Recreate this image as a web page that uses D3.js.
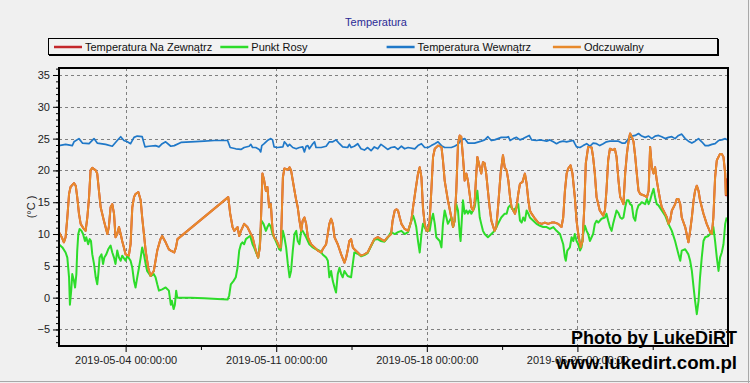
<!DOCTYPE html>
<html><head><meta charset="utf-8">
<script src="https://cdn.jsdelivr.net/npm/d3@7"></script>
<style>
html,body{margin:0;padding:0;background:#f0f0f0;}
svg{display:block;}
.lbl{font-family:"Liberation Sans",Arial,sans-serif;}
.wm{font-family:"Liberation Sans",Arial,sans-serif;font-weight:bold;}
</style></head><body>
<svg id="chart" width="750" height="383"></svg>
<script>
// ---------- DATA ----------
const chartTitle = "Temperatura";
const yAxisLabel = "(°C )";
const seriesNames = ["Temperatura Na Zewnątrz", "Punkt Rosy", "Temperatura Wewnątrz", "Odczuwalny"];
const xTickLabels = ["2019-05-04 00:00:00", "2019-05-11 00:00:00", "2019-05-18 00:00:00", "2019-05-25 00:00:00"];
const yTickValues = [-5, 0, 5, 10, 15, 20, 25, 30, 35];
// each point: [days since 2019-05-01 00:00, °C]
const tempOut = [[-0.10,10.3],[0.03,9.5],[0.13,8.7],[0.21,9.5],[0.29,12.6],[0.37,16.3],[0.44,17.4],[0.60,18.0],[0.68,17.6],[0.75,15.8],[0.83,13.2],[0.91,11.6],[1.06,10.8],[1.14,10.5],[1.22,12.6],[1.30,15.8],[1.37,20.0],[1.45,20.4],[1.61,20.0],[1.68,19.5],[1.76,16.8],[1.84,14.2],[1.99,12.1],[2.15,10.0],[2.22,11.1],[2.30,14.2],[2.38,14.7],[2.46,13.2],[2.53,9.5],[2.61,10.0],[2.69,11.1],[2.77,10.0],[2.84,8.9],[2.92,7.9],[3.00,6.8],[3.15,6.6],[3.23,8.4],[3.31,14.2],[3.39,15.8],[3.46,16.3],[3.59,16.6],[3.70,15.3],[3.77,12.6],[3.85,10.0],[3.93,7.4],[4.05,4.7],[4.16,3.4],[4.31,4.2],[4.47,7.4],[4.62,9.2],[4.70,9.7],[4.86,8.7],[5.01,7.6],[5.10,7.4],[5.26,7.1],[5.34,7.9],[5.41,9.2],[7.77,15.8],[7.86,13.2],[7.97,11.1],[8.05,10.5],[8.20,11.1],[8.28,9.7],[8.36,10.5],[8.51,11.6],[8.66,11.1],[8.82,10.0],[8.90,9.5],[9.05,7.4],[9.16,6.3],[9.24,7.9],[9.28,11.1],[9.36,19.5],[9.44,18.4],[9.52,16.8],[9.59,17.4],[9.67,14.2],[9.75,14.7],[9.83,10.5],[9.90,9.5],[10.03,8.9],[10.14,7.9],[10.21,7.9],[10.25,12.0],[10.31,18.9],[10.38,20.3],[10.54,20.1],[10.62,20.5],[10.69,20.0],[10.77,18.4],[10.85,16.8],[10.93,15.3],[11.00,14.2],[11.08,12.1],[11.16,10.5],[11.23,12.1],[11.31,12.6],[11.39,11.6],[11.47,9.5],[11.62,8.4],[11.78,7.9],[11.93,7.4],[12.09,7.1],[12.16,7.6],[12.32,8.4],[12.47,11.6],[12.55,12.4],[12.63,11.6],[12.71,9.5],[12.86,8.4],[13.02,6.8],[13.17,5.5],[13.25,6.3],[13.32,7.4],[13.40,8.9],[13.48,9.2],[13.56,7.9],[13.63,7.6],[13.79,7.1],[13.94,6.6],[14.10,6.8],[14.25,7.1],[14.41,8.2],[14.56,9.2],[14.72,9.5],[14.87,9.2],[15.03,8.9],[15.18,9.5],[15.34,10.0],[15.41,12.1],[15.51,13.7],[15.59,13.9],[15.66,13.7],[15.74,12.6],[15.82,11.6],[15.97,10.8],[16.13,10.5],[16.28,12.1],[16.36,14.2],[16.47,16.8],[16.59,19.5],[16.67,20.5],[16.75,18.9],[16.82,14.2],[16.90,11.6],[16.98,10.5],[17.06,10.5],[17.13,12.1],[17.21,16.8],[17.29,22.1],[17.37,23.4],[17.52,23.9],[17.68,23.7],[17.75,21.6],[17.83,18.4],[17.98,15.3],[18.14,12.6],[18.22,11.1],[18.29,12.1],[18.37,16.8],[18.45,24.2],[18.53,25.5],[18.60,25.3],[18.68,22.1],[18.76,18.4],[18.84,19.5],[18.91,18.4],[18.99,16.3],[19.07,14.2],[19.15,13.7],[19.22,14.7],[19.30,19.5],[19.35,22.1],[19.46,20.5],[19.53,19.5],[19.61,21.3],[19.69,21.1],[19.76,19.5],[19.84,16.8],[19.92,14.2],[20.00,12.1],[20.15,10.5],[20.23,11.1],[20.31,14.2],[20.43,19.5],[20.54,22.4],[20.62,20.5],[20.71,20.0],[20.79,18.4],[20.87,15.8],[20.94,14.2],[21.02,13.7],[21.10,13.2],[21.17,14.2],[21.25,16.3],[21.33,17.9],[21.45,18.2],[21.56,19.5],[21.64,17.9],[21.72,15.3],[21.79,13.7],[21.87,13.2],[22.03,12.4],[22.18,11.8],[22.34,11.6],[22.49,11.8],[22.64,11.6],[22.80,11.8],[22.95,11.8],[23.11,11.6],[23.26,11.1],[23.34,12.6],[23.42,16.8],[23.50,19.5],[23.57,20.3],[23.68,20.8],[23.77,19.5],[23.88,15.8],[23.96,12.1],[24.04,10.0],[24.15,7.9],[24.24,8.9],[24.32,14.2],[24.39,21.1],[24.50,23.7],[24.66,23.6],[24.73,22.1],[24.81,19.5],[24.89,15.8],[25.04,13.7],[25.20,12.9],[25.28,13.7],[25.35,16.8],[25.43,21.6],[25.51,23.4],[25.66,23.2],[25.74,23.4],[25.82,22.1],[25.91,18.4],[25.99,15.8],[26.07,15.3],[26.14,14.7],[26.22,19.5],[26.30,22.6],[26.38,24.7],[26.45,25.8],[26.53,25.3],[26.61,24.5],[26.69,22.1],[26.76,19.5],[26.84,16.8],[26.92,16.3],[27.07,16.1],[27.23,15.8],[27.31,16.8],[27.38,23.7],[27.46,20.5],[27.54,19.5],[27.61,20.5],[27.69,18.4],[27.77,16.8],[27.85,15.3],[27.92,14.2],[28.00,13.7],[28.16,12.6],[28.23,11.6],[28.31,12.1],[28.39,13.7],[28.47,14.2],[28.54,14.7],[28.62,15.5],[28.70,15.5],[28.78,14.7],[28.85,12.6],[29.01,11.1],[29.16,8.7],[29.24,10.5],[29.32,12.6],[29.40,15.3],[29.47,16.8],[29.55,17.6],[29.63,16.8],[29.70,15.3],[29.86,13.2],[30.01,11.6],[30.17,10.3],[30.25,10.0],[30.32,12.6],[30.40,18.9],[30.48,21.6],[30.63,22.6],[30.71,22.6],[30.79,22.1],[30.87,19.5],[30.90,16.1],[30.95,18.6],[30.99,15.8]];
const dewPoint = [[-0.10,8.4],[0.06,7.9],[0.21,7.1],[0.29,6.3],[0.37,3.2],[0.41,-1.1],[0.47,1.1],[0.52,3.7],[0.60,2.6],[0.65,1.6],[0.71,3.7],[0.75,7.4],[0.80,10.0],[0.86,10.8],[0.95,10.5],[1.02,10.0],[1.11,8.9],[1.17,9.5],[1.26,8.4],[1.33,9.2],[1.39,8.9],[1.45,6.8],[1.53,5.3],[1.61,3.2],[1.68,2.1],[1.73,3.7],[1.79,6.3],[1.88,6.8],[1.95,5.3],[2.01,6.3],[2.10,6.8],[2.19,7.6],[2.30,8.2],[2.38,7.1],[2.46,6.3],[2.53,5.3],[2.61,7.4],[2.69,6.3],[2.77,5.8],[2.84,6.6],[3.00,5.8],[3.08,6.6],[3.23,5.8],[3.31,4.7],[3.39,2.6],[3.46,1.6],[3.54,3.2],[3.62,4.7],[3.70,6.3],[3.77,7.9],[3.85,6.8],[3.93,5.3],[4.00,4.2],[4.16,3.4],[4.31,3.7],[4.39,3.2],[4.47,2.1],[4.55,1.1],[4.70,1.3],[4.86,1.6],[5.01,1.1],[5.10,-1.1],[5.15,-0.5],[5.23,-1.8],[5.29,-1.1],[5.35,1.1],[5.40,0.0],[6.03,0.0],[6.65,-0.1],[7.27,-0.2],[7.74,-0.3],[7.81,0.3],[7.89,2.1],[8.01,2.6],[8.12,3.2],[8.20,4.7],[8.28,7.4],[8.36,8.4],[8.43,8.7],[8.51,8.4],[8.59,9.2],[8.70,9.5],[8.79,9.7],[8.90,8.4],[8.97,7.9],[9.10,6.8],[9.16,6.3],[9.25,8.9],[9.31,12.1],[9.41,11.6],[9.52,10.5],[9.59,11.1],[9.67,11.6],[9.75,11.1],[9.83,10.0],[9.98,8.9],[10.14,7.6],[10.21,7.4],[10.31,10.5],[10.38,9.5],[10.46,7.9],[10.54,5.3],[10.62,3.2],[10.69,4.2],[10.77,7.4],[10.85,10.0],[10.93,10.5],[11.00,8.9],[11.08,8.4],[11.16,10.5],[11.23,10.5],[11.31,10.0],[11.39,9.5],[11.54,8.4],[11.70,7.9],[11.85,7.6],[12.01,7.4],[12.16,6.8],[12.32,6.3],[12.40,5.8],[12.47,3.2],[12.55,4.2],[12.63,2.6],[12.71,1.6],[12.78,0.8],[12.86,3.7],[12.94,4.7],[13.02,3.7],[13.09,3.2],[13.17,4.2],[13.32,3.4],[13.48,3.2],[13.56,5.3],[13.63,7.1],[13.79,6.9],[13.94,6.5],[14.10,6.7],[14.25,7.0],[14.41,8.1],[14.56,9.1],[14.72,9.2],[14.87,8.9],[15.03,8.8],[15.18,9.4],[15.34,10.3],[15.51,10.0],[15.66,10.3],[15.82,10.5],[15.97,10.0],[16.13,10.3],[16.28,12.1],[16.36,12.9],[16.44,12.1],[16.51,11.1],[16.59,8.9],[16.67,7.1],[16.75,10.0],[16.82,11.6],[16.90,11.1],[16.98,10.5],[17.06,10.5],[17.13,10.5],[17.21,12.1],[17.29,13.2],[17.37,11.6],[17.44,9.5],[17.60,8.9],[17.68,7.9],[17.75,11.6],[17.83,13.7],[17.91,12.6],[17.98,11.6],[18.14,12.6],[18.22,11.1],[18.29,12.1],[18.37,14.7],[18.45,13.7],[18.53,10.0],[18.57,8.9],[18.68,15.3],[18.76,13.2],[18.84,13.7],[18.91,13.2],[18.99,13.7],[19.07,13.2],[19.22,14.2],[19.35,16.8],[19.46,12.6],[19.53,11.6],[19.61,10.5],[19.69,10.0],[19.84,9.5],[20.00,10.0],[20.15,10.5],[20.31,11.6],[20.46,12.6],[20.62,13.2],[20.71,13.2],[20.79,14.2],[20.87,14.5],[21.02,13.7],[21.17,14.2],[21.25,14.7],[21.33,12.1],[21.41,11.8],[21.48,12.6],[21.56,12.1],[21.64,13.7],[21.72,13.2],[21.79,12.6],[21.95,12.1],[22.10,11.6],[22.26,11.3],[22.41,11.1],[22.57,11.1],[22.72,10.8],[22.88,11.1],[23.03,10.5],[23.19,10.0],[23.34,8.4],[23.42,6.3],[23.46,5.8],[23.53,7.4],[23.65,7.9],[23.73,9.5],[23.81,8.9],[23.88,10.0],[23.96,8.9],[24.04,8.4],[24.12,7.4],[24.19,7.9],[24.27,10.0],[24.35,11.3],[24.43,10.5],[24.50,10.0],[24.58,8.9],[24.66,9.5],[24.73,10.0],[24.81,11.6],[24.89,12.1],[24.97,11.8],[25.12,12.4],[25.28,12.6],[25.35,13.2],[25.43,12.1],[25.51,11.1],[25.59,10.5],[25.66,11.6],[25.82,13.7],[25.91,13.3],[25.99,12.6],[26.07,12.4],[26.14,12.6],[26.22,14.2],[26.30,15.3],[26.38,15.3],[26.45,14.7],[26.53,14.5],[26.61,12.6],[26.69,12.1],[26.76,13.7],[26.84,14.5],[26.92,14.7],[26.99,15.0],[27.15,14.7],[27.23,15.5],[27.31,14.7],[27.38,15.3],[27.46,16.3],[27.54,17.1],[27.61,15.8],[27.69,14.7],[27.77,14.5],[27.92,13.7],[28.08,12.9],[28.23,11.6],[28.39,10.5],[28.54,8.9],[28.70,6.8],[28.78,5.8],[28.85,7.4],[29.01,7.6],[29.16,6.8],[29.24,5.8],[29.32,4.2],[29.40,1.6],[29.47,-0.5],[29.55,-2.6],[29.63,-0.5],[29.70,3.2],[29.78,6.3],[29.86,8.9],[29.94,9.5],[30.09,9.7],[30.17,10.0],[30.25,10.0],[30.32,11.1],[30.40,8.9],[30.48,6.3],[30.56,4.2],[30.63,6.3],[30.71,7.1],[30.79,8.4],[30.87,11.6],[30.94,12.6]];
const tempIn = [[-0.10,23.9],[0.21,24.1],[0.52,23.9],[0.60,24.5],[0.83,25.0],[0.99,24.3],[1.30,24.2],[1.53,25.0],[1.68,24.3],[2.07,24.1],[2.38,23.8],[2.61,24.7],[2.77,25.3],[2.92,24.7],[3.08,24.5],[3.23,24.2],[3.39,25.2],[3.54,25.4],[3.77,25.3],[3.90,23.7],[4.08,23.8],[4.39,23.9],[4.55,23.7],[4.70,24.2],[4.86,24.5],[5.10,23.8],[5.26,23.9],[5.57,24.4],[6.03,24.5],[6.65,24.6],[7.12,24.7],[7.74,24.7],[7.86,23.6],[8.12,23.4],[8.36,23.3],[8.51,23.6],[8.74,23.8],[8.82,24.1],[8.90,23.6],[9.05,23.6],[9.21,23.3],[9.28,22.9],[9.33,23.9],[9.44,24.2],[9.59,24.7],[9.75,25.0],[9.83,24.8],[9.90,23.7],[10.06,23.6],[10.31,23.7],[10.38,24.5],[10.46,24.2],[10.54,23.8],[10.62,24.1],[10.77,23.6],[10.93,23.4],[11.08,23.6],[11.23,23.7],[11.31,22.9],[11.39,23.8],[11.47,23.9],[11.54,23.4],[11.70,24.2],[11.78,24.5],[11.85,23.6],[12.09,23.6],[12.32,23.8],[12.47,24.5],[12.63,24.5],[12.78,24.8],[12.94,24.2],[13.09,23.7],[13.32,23.6],[13.40,24.1],[13.48,23.6],[13.63,23.8],[13.79,24.2],[13.94,23.4],[14.10,23.2],[14.25,23.6],[14.41,23.1],[14.56,23.7],[14.72,23.4],[14.87,24.1],[15.03,23.7],[15.18,23.3],[15.34,23.6],[15.51,23.7],[15.66,23.3],[15.82,23.8],[15.97,23.4],[16.13,23.6],[16.44,23.4],[16.59,23.9],[16.75,24.2],[16.90,23.6],[17.06,23.6],[17.21,23.9],[17.37,24.2],[17.52,24.5],[17.68,23.9],[17.83,23.6],[18.14,23.6],[18.29,23.8],[18.45,24.1],[18.60,24.8],[18.76,25.0],[18.91,24.3],[19.22,24.3],[19.53,24.6],[19.69,24.8],[19.84,25.3],[20.00,24.7],[20.15,24.8],[20.31,25.0],[20.46,25.2],[20.71,25.2],[20.79,25.3],[20.87,24.7],[21.02,25.0],[21.17,25.2],[21.33,24.8],[21.48,25.0],[21.64,25.3],[21.76,25.5],[21.87,24.8],[22.10,24.7],[22.26,24.8],[22.41,24.7],[22.57,24.6],[22.72,24.8],[22.88,24.5],[23.03,24.2],[23.19,24.5],[23.34,24.6],[23.50,24.5],[23.65,24.6],[23.81,24.7],[23.88,24.2],[23.96,23.7],[24.12,23.6],[24.27,23.9],[24.43,24.2],[24.58,23.8],[24.73,24.3],[24.89,24.2],[25.04,23.9],[25.20,24.2],[25.35,24.5],[25.51,24.6],[25.91,24.6],[26.07,24.3],[26.22,24.3],[26.38,25.0],[26.53,25.4],[26.69,25.5],[26.84,25.8],[26.99,25.4],[27.15,25.2],[27.31,25.4],[27.46,25.0],[27.61,25.4],[27.77,25.5],[27.92,25.3],[28.08,25.0],[28.23,25.2],[28.39,25.3],[28.54,25.0],[28.70,25.5],[28.85,25.7],[29.01,25.0],[29.16,24.6],[29.32,24.3],[29.47,24.6],[29.63,25.0],[29.78,24.5],[29.94,23.9],[30.09,23.9],[30.25,24.1],[30.40,24.2],[30.56,24.7],[30.71,24.8],[30.87,25.0],[30.97,24.8]];
// feels-like readings coincide with the outside temperature (orange drawn over red)
const feelsLike = tempOut.slice(0, tempOut.length - 2);

// ---------- LAYOUT / STYLE ----------
const colors = ["#c4282c", "#2ddc2a", "#1f78c8", "#e88a2c"];
const W = 750, H = 383;
const plot = {l: 59, r: 728, t: 68, b: 346};
const epoch = Date.UTC(2019, 4, 1);
const toDate = d => new Date(epoch + d * 864e5);
const parseTick = d3.utcParse("%Y-%m-%d %H:%M:%S");
const fmtTick = d3.utcFormat("%Y-%m-%d %H:%M:%S");
const FS = 11;

const svg = d3.select("#chart");
svg.append("rect").attr("width", W).attr("height", H).attr("fill", "#f0f0f0");
svg.append("line").attr("x1", W - 1.5).attr("x2", W - 1.5).attr("y1", 0).attr("y2", H).attr("stroke", "#a8a8a8");
svg.append("line").attr("x1", 0).attr("x2", W).attr("y1", H - 1.5).attr("y2", H - 1.5).attr("stroke", "#a8a8a8");

const x = d3.scaleUtc()
  .domain([Date.UTC(2019, 3, 30, 21, 40), Date.UTC(2019, 5, 1, 0, 0)])
  .range([plot.l, plot.r]);
const y = d3.scaleLinear().domain([-7.6, 36.1]).range([plot.b, plot.t]);

// title
svg.append("text").attr("class", "lbl").attr("x", 376).attr("y", 26)
  .attr("text-anchor", "middle").attr("font-size", FS).attr("fill", "#2b2b96").text(chartTitle);

// legend
const lg = svg.append("g");
lg.append("rect").attr("x", 49.5).attr("y", 39.5).attr("width", 669).attr("height", 16)
  .attr("fill", "none").attr("stroke", "#000").attr("stroke-width", 1);
lg.append("rect").attr("x", 48.5).attr("y", 38.5).attr("width", 669).attr("height", 16)
  .attr("fill", "#f2f2f2").attr("stroke", "#000").attr("stroke-width", 1);
seriesNames.forEach((name, i) => {
  const gx = 54 + i * 166.3;
  lg.append("line").attr("x1", gx).attr("x2", gx + 28).attr("y1", 47).attr("y2", 47)
    .attr("stroke", colors[i]).attr("stroke-width", 2.5);
  lg.append("text").attr("class", "lbl").attr("x", gx + 31).attr("y", 51)
    .attr("font-size", FS).attr("fill", "#111").text(name);
});

// grid
const xTicks = xTickLabels.map(parseTick);
const grid = svg.append("g").attr("stroke", "#808080").attr("stroke-dasharray", "3,3").attr("stroke-width", 1);
grid.selectAll("line.h").data(yTickValues).join("line").attr("class", "h")
  .attr("x1", plot.l).attr("x2", plot.r)
  .attr("y1", d => Math.round(y(d)) + 0.5).attr("y2", d => Math.round(y(d)) + 0.5);
grid.selectAll("line.v").data(xTicks).join("line").attr("class", "v")
  .attr("y1", plot.t).attr("y2", plot.b)
  .attr("x1", d => Math.round(x(d)) + 0.5).attr("x2", d => Math.round(x(d)) + 0.5);

// series
svg.append("clipPath").attr("id", "clip").append("rect")
  .attr("x", plot.l).attr("y", plot.t).attr("width", plot.r - plot.l).attr("height", plot.b - plot.t);
const line = d3.line().x(d => x(toDate(d[0]))).y(d => y(d[1]));
const series = [tempOut, dewPoint, tempIn, feelsLike];
const widths = [2, 2, 1.7, 2];
const lines = svg.append("g").attr("clip-path", "url(#clip)");
series.forEach((s, i) => {
  lines.append("path").datum(s).attr("d", line).attr("fill", "none")
    .attr("stroke", colors[i]).attr("stroke-width", widths[i]).attr("stroke-linejoin", "round");
});

// frame
svg.append("rect").attr("x", plot.l).attr("y", plot.t).attr("width", plot.r - plot.l).attr("height", plot.b - plot.t)
  .attr("fill", "none").attr("stroke", "#000").attr("stroke-width", 2);

// axes
const yAxis = svg.append("g").attr("transform", `translate(${plot.l - 1},0)`)
  .call(d3.axisLeft(y).tickValues(yTickValues).tickSize(5).tickPadding(3).tickFormat(d3.format("d")));
const yMinor = svg.append("g").attr("transform", `translate(${plot.l - 1},0)`)
  .call(d3.axisLeft(y).tickValues(d3.range(-7, 37, 1)).tickSize(2).tickFormat(""));
const xAxis = svg.append("g").attr("transform", `translate(0,${plot.b + 1})`)
  .call(d3.axisBottom(x).tickValues(xTicks).tickSize(5).tickPadding(4).tickFormat(fmtTick));
const xMinor = svg.append("g").attr("transform", `translate(0,${plot.b + 1})`)
  .call(d3.axisBottom(x).tickValues(xTicks.map(d => d3.utcHour.offset(d, 84))).tickSize(3).tickFormat(""));
[yAxis, yMinor, xAxis, xMinor].forEach(g => {
  g.select(".domain").remove();
  g.selectAll(".tick line").attr("stroke", "#000");
  g.selectAll("text").attr("class", "lbl").attr("font-size", FS).attr("fill", "#222");
  g.attr("font-family", null).attr("font-size", null);
});

// y label
svg.append("text").attr("class", "lbl").attr("transform", "translate(35,207) rotate(-90)")
  .attr("text-anchor", "middle").attr("font-size", FS).attr("fill", "#222").text(yAxisLabel);

// watermark
svg.append("text").attr("class", "wm").attr("x", 737).attr("y", 344).attr("text-anchor", "end")
  .attr("font-size", 18).attr("fill", "#000").text("Photo by LukeDiRT");
svg.append("text").attr("class", "wm").attr("x", 737).attr("y", 369).attr("text-anchor", "end")
  .attr("font-size", 18.7).attr("fill", "#000").text("www.lukedirt.com.pl");
</script>
</body></html>
